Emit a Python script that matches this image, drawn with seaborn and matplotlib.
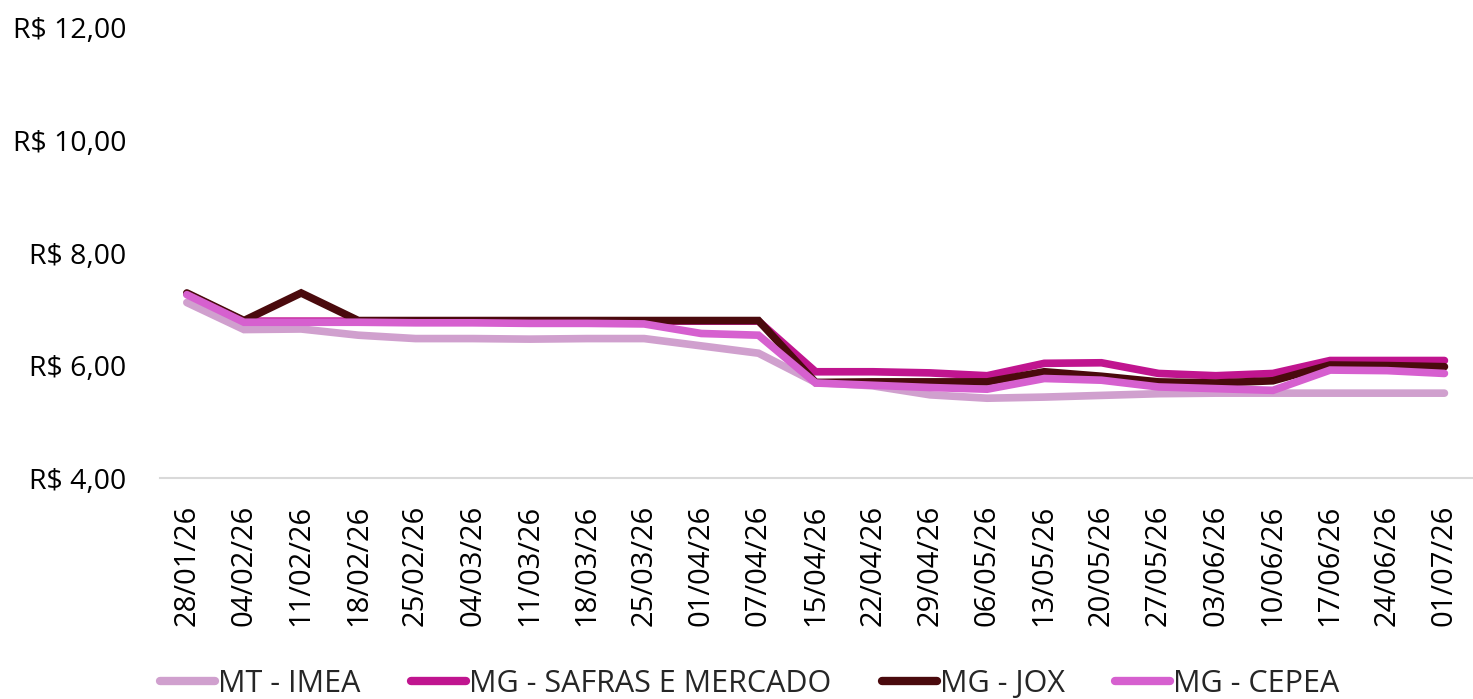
import matplotlib
matplotlib.use("Agg")
import matplotlib.pyplot as plt
import seaborn as sns
import pandas as pd
from matplotlib.ticker import FuncFormatter

dates = ["28/01/26", "04/02/26", "11/02/26", "18/02/26", "25/02/26", "04/03/26",
         "11/03/26", "18/03/26", "25/03/26", "01/04/26", "07/04/26", "15/04/26",
         "22/04/26", "29/04/26", "06/05/26", "13/05/26", "20/05/26", "27/05/26",
         "03/06/26", "10/06/26", "17/06/26", "24/06/26", "01/07/26"]

mt_imea = [7.12, 6.64, 6.65, 6.54, 6.48, 6.48, 6.47, 6.48, 6.48, 6.35, 6.22, 5.70,
           5.64, 5.48, 5.42, 5.44, 5.47, 5.50, 5.51, 5.51, 5.51, 5.51, 5.51]
mg_safras = [7.28, 6.79, 6.79, 6.79, 6.79, 6.79, 6.79, 6.79, 6.79, 6.79, 6.79, 5.89,
             5.89, 5.87, 5.82, 6.04, 6.05, 5.86, 5.82, 5.86, 6.09, 6.09, 6.09]
mg_jox = [7.29, 6.80, 7.29, 6.80, 6.80, 6.80, 6.80, 6.80, 6.80, 6.80, 6.80, 5.70,
          5.71, 5.71, 5.71, 5.89, 5.81, 5.71, 5.69, 5.73, 6.01, 6.00, 5.98]
mg_cepea = [7.26, 6.77, 6.77, 6.77, 6.76, 6.76, 6.75, 6.75, 6.74, 6.57, 6.54, 5.69,
            5.65, 5.61, 5.58, 5.77, 5.74, 5.62, 5.59, 5.56, 5.92, 5.91, 5.86]

series_names = ["MT - IMEA", "MG - SAFRAS E MERCADO", "MG - JOX", "MG - CEPEA"]
series_values = [mt_imea, mg_safras, mg_jox, mg_cepea]
colors = ["#D0A0CE", "#C0158F", "#4A0A0D", "#D660CF"]

rows = []
for name, vals in zip(series_names, series_values):
    for i, (d, v) in enumerate(zip(dates, vals)):
        rows.append({"pos": i, "date": d, "serie": name, "valor": v})
df = pd.DataFrame(rows)

sns.set_theme(style="white")
plt.rcParams["font.family"] = ["Open Sans", "DejaVu Sans"]

fig = plt.figure(figsize=(14.73, 6.99), dpi=100)
ax = fig.add_axes([0.1086, 0.316, 0.8914, 0.644])

sns.lineplot(data=df, x="pos", y="valor", hue="serie", hue_order=series_names,
             palette=colors, linewidth=5.5, sort=False, ax=ax,
             solid_capstyle="round", solid_joinstyle="miter", legend=True)

ax.set_xlim(-0.47, 22.5)
ax.set_ylim(4, 12)
ax.set_yticks([4, 6, 8, 10, 12])
ax.yaxis.set_major_formatter(FuncFormatter(lambda v, p: "R$ " + f"{v:.2f}".replace(".", ",")))
ax.set_xticks(range(len(dates)))
ax.set_xticklabels(dates, rotation=90)
ax.tick_params(axis="x", length=0, pad=19, labelsize=21, colors="black")
ax.tick_params(axis="y", length=0, pad=24, labelsize=20.5, colors="black")
ax.set_xlabel("")
ax.set_ylabel("")
for s in ["top", "right", "left"]:
    ax.spines[s].set_visible(False)
ax.spines["bottom"].set_color("#D9D9D9")
ax.spines["bottom"].set_linewidth(1.5)

handles, labels = ax.get_legend_handles_labels()
ax.get_legend().remove()
for h in handles:
    h.set_solid_capstyle("round")
    h.set_linewidth(6)
fig.legend(handles, labels, loc="lower left", bbox_to_anchor=(160 / 1473, 0.0),
           ncol=4, frameon=False, fontsize=22, handlelength=1.8,
           handletextpad=0.1, columnspacing=1.65, borderaxespad=0, borderpad=0)

fig.savefig("out.png", dpi=100)
